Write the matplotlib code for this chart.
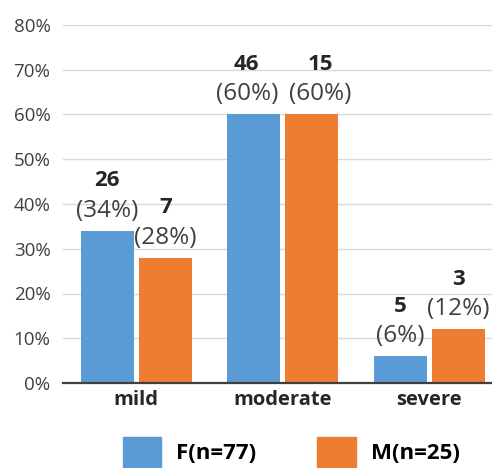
import matplotlib
matplotlib.use('Agg')
import matplotlib.pyplot as plt
from matplotlib.patches import Patch
from matplotlib.ticker import PercentFormatter
import numpy as np

categories = ['mild', 'moderate', 'severe']
series = ['F(n=77)', 'M(n=25)']
counts_f = [26, 46, 5]
counts_m = [7, 15, 3]
pct_f = [34, 60, 6]
pct_m = [28, 60, 12]

colors = ['#5B9BD5', '#ED7D31']

# sideways nudge (points) so neighbouring labels of equal height don't collide
nudge = [[0, -5, 0], [0, 6, 0]]

plt.rcParams['font.family'] = ['Open Sans', 'DejaVu Sans']

fig = plt.figure(figsize=(4.92, 4.68), dpi=100)
ax = fig.add_axes([63 / 492, 1 - 383 / 468, 429 / 492, 358 / 468])

x = np.arange(len(categories))
w = 0.362
off = 0.198
for i, (cnts, pcts) in enumerate([(counts_f, pct_f), (counts_m, pct_m)]):
    xs = x + (-off if i == 0 else off)
    ax.bar(xs, pcts, width=w, color=colors[i], zorder=3)
    for j, (xi, c, p) in enumerate(zip(xs, cnts, pcts)):
        dx = nudge[i][j]
        # percentage just above the bar, count stacked on top of it
        ax.annotate('(%d%%)' % p, (xi, p), xytext=(dx, 14.5), textcoords='offset points',
                    ha='center', va='center', fontsize=17.5, color='#404040')
        ax.annotate(str(c), (xi, p), xytext=(dx, 36), textcoords='offset points',
                    ha='center', va='center', fontsize=16, fontweight='bold', color='#262626')

ax.set_xlim(-0.5, 2.428)
ax.set_ylim(0, 80)
ax.set_yticks(range(0, 81, 10))
ax.yaxis.set_major_formatter(PercentFormatter(decimals=0))
ax.set_xticks(x)
ax.set_xticklabels(categories, fontsize=14.5, fontweight='bold', color='#262626')
ax.tick_params(axis='y', labelsize=13.5, labelcolor='#404040', length=0, pad=9)
ax.tick_params(axis='x', length=0, pad=5)
ax.grid(axis='y', color='#D9D9D9', linewidth=1, zorder=0)
for s in ['top', 'right', 'left']:
    ax.spines[s].set_visible(False)
ax.spines['bottom'].set_color('#404040')
ax.spines['bottom'].set_linewidth(1.6)
ax.spines['bottom'].set_zorder(4)

handles = [Patch(color=c, label=l) for c, l in zip(colors, series)]
fig.legend(handles=handles, loc='center', bbox_to_anchor=(291 / 492, 1 - 452 / 468),
           ncol=2, frameon=False, handlelength=1.75, handleheight=1.7,
           handletextpad=0.68, columnspacing=2.7, borderpad=0,
           prop={'weight': 'bold', 'size': 16})

fig.savefig('out.png', dpi=100)
plt.close('all')
